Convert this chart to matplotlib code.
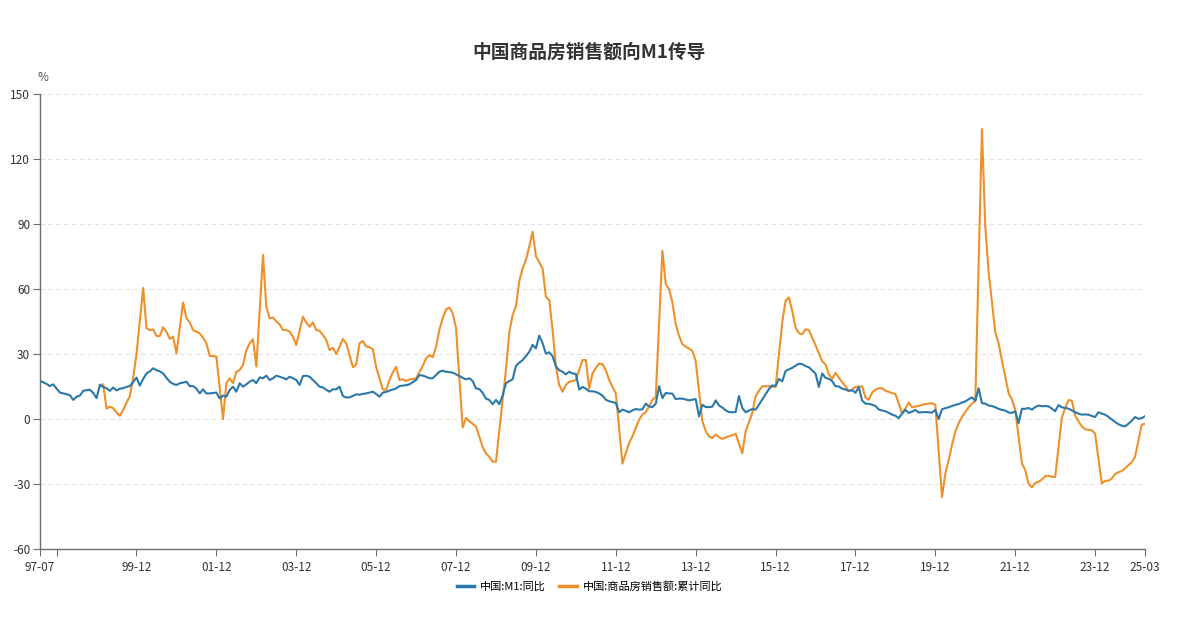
import numpy as np
import pandas as pd
import matplotlib
matplotlib.use("Agg")
import matplotlib.pyplot as plt

plt.rcParams['font.family'] = ['Noto Sans CJK SC', 'DejaVu Sans']
plt.rcParams['axes.unicode_minus'] = False

# monthly, 1997-07 .. 2025-03
months = pd.period_range('1997-07', '2025-03', freq='M')

# 中国:M1:同比 (rows = Jul..Jun)
m1 = [
    17.7, 16.9, 16.2, 15.2, 16.0, 14.0, 12.2, 11.8, 11.4, 11.0, 8.8, 10.3,
    10.8, 13.0, 13.3, 13.5, 12.0, 9.6, 15.7, 14.8, 14.2, 13.0, 14.5, 13.2,
    14.0, 14.2, 14.8, 15.2, 17.0, 19.1, 15.4, 18.5, 21.0, 22.0, 23.4, 22.5,
    22.0, 21.0, 19.0, 17.2, 16.2, 15.7, 16.5, 16.8, 17.2, 15.2, 15.2, 14.0,
    11.8, 13.7, 11.8, 11.8, 12.0, 12.2, 9.5, 10.8, 10.3, 13.4, 14.9, 12.6,
    16.5, 14.9, 16.0, 17.2, 18.0, 16.5, 19.2, 18.8, 20.0, 18.0, 18.8, 20.0,
    19.5, 19.0, 18.3, 19.5, 18.8, 18.0, 15.7, 19.8, 20.0, 19.5, 18.0, 16.5,
    14.9, 14.6, 13.5, 12.6, 13.7, 13.7, 14.9, 10.6, 9.9, 10.0, 10.6, 11.4,
    11.2, 11.6, 11.8, 12.2, 12.6, 11.5, 10.3, 12.2, 12.5, 13.1, 13.6, 14.1,
    15.2, 15.4, 15.6, 16.0, 17.0, 18.0, 20.3, 20.0, 19.5, 18.8, 18.8, 20.3,
    21.8, 22.3, 21.8, 21.6, 21.4, 20.6, 19.8, 19.0, 18.3, 18.8, 17.5, 14.1,
    13.8, 12.0, 9.4, 8.8, 6.8, 8.8, 6.8, 10.9, 16.5, 17.5, 18.3, 24.5,
    26.0, 27.2, 29.0, 31.0, 34.2, 32.6, 38.5, 35.0, 30.1, 30.8, 29.0, 24.3,
    22.5, 21.8, 20.6, 21.8, 21.0, 20.8, 13.6, 14.8, 14.0, 12.8, 12.8, 12.5,
    11.8, 10.8, 8.9, 8.2, 7.8, 7.4, 3.1, 4.3, 3.8, 3.1, 4.0, 4.6,
    4.3, 4.5, 7.1, 5.8, 5.5, 7.0, 15.1, 9.7, 12.0, 11.8, 11.7, 9.2,
    9.4, 9.4, 9.0, 8.6, 8.9, 9.2, 1.2, 6.6, 5.5, 5.5, 5.7, 8.6,
    6.2, 5.3, 4.0, 3.2, 3.1, 3.2, 10.6, 5.1, 3.1, 3.9, 4.6, 4.3,
    6.6, 9.0, 11.4, 13.8, 15.5, 15.2, 18.5, 17.4, 22.1, 22.9, 23.6, 24.6,
    25.5, 25.3, 24.4, 23.9, 22.4, 21.0, 14.8, 21.0, 19.0, 18.5, 17.5, 15.1,
    15.0, 14.0, 13.6, 13.0, 13.3, 12.1, 14.7, 8.5, 7.1, 7.0, 6.6, 6.0,
    4.4, 3.9, 3.6, 2.8, 2.0, 1.5, 0.4, 2.5, 4.2, 2.8, 3.4, 4.2,
    3.0, 3.1, 3.2, 3.1, 2.9, 4.2, 0.0, 4.5, 5.0, 5.4, 6.0, 6.5,
    6.9, 7.6, 8.1, 9.1, 10.0, 8.4, 14.2, 7.3, 7.1, 6.2, 6.0, 5.4,
    4.7, 4.2, 3.9, 3.0, 2.8, 3.6, -1.9, 4.7, 4.7, 5.1, 4.3, 5.5,
    6.2, 5.9, 6.0, 5.8, 4.8, 3.6, 6.4, 5.4, 5.1, 4.8, 4.0, 3.1,
    2.5, 2.0, 2.1, 2.0, 1.4, 0.9, 3.1, 2.5, 2.0, 1.0, -0.2, -1.4,
    -2.4, -3.1, -3.4, -2.2, -0.8, 0.9, 0.1, 0.4, 1.3,
]

# 中国:商品房销售额:累计同比 (no January figure after 1999)
N = None
sales = [
    N, N, N, N, N, N, N, N, N, N, N, N,
    N, N, N, N, N, N, 15.7, 16.0, 4.8, 5.7, 5.0, 3.0,
    1.5, 4.2, 7.5, 10.5, 19.0, 30.0, N, 60.5, 42.0, 41.0, 41.3, 38.3,
    38.3, 42.3, 40.3, 37.0, 38.0, 30.3, N, 53.8, 46.5, 44.5, 41.0, 40.3,
    39.5, 37.5, 34.9, 29.1, 29.0, 28.8, N, 0.0, 16.5, 18.8, 16.5, 21.8,
    22.6, 24.9, 31.8, 34.9, 36.8, 24.2, N, 75.7, 51.8, 46.5, 46.8, 45.0,
    43.7, 41.1, 41.1, 40.3, 38.0, 34.2, N, 47.2, 44.5, 42.6, 44.6, 41.0,
    40.7, 38.8, 36.5, 31.8, 32.9, 30.0, N, 36.9, 34.9, 29.5, 23.9, 25.0,
    34.9, 36.0, 33.4, 33.2, 32.2, 24.0, N, 13.7, 13.4, 18.0, 21.5, 24.1,
    18.0, 18.3, 17.5, 18.3, 18.4, 18.8, N, 24.5, 28.0, 29.5, 28.5, 33.4,
    41.1, 46.5, 50.6, 51.4, 48.8, 41.9, N, -3.9, 0.5, -1.0, -2.2, -3.5,
    -8.1, -13.0, -15.9, -17.5, -19.7, -19.7, N, 8.9, 22.7, 40.0, 48.0, 52.0,
    63.5, 69.5, 73.4, 79.6, 86.4, 75.2, N, 69.5, 56.4, 54.9, 41.1, 24.2,
    15.7, 12.6, 15.7, 17.2, 17.5, 18.0, N, 27.2, 27.2, 14.1, 21.0, 23.5,
    25.6, 25.3, 22.6, 18.0, 14.9, 11.8, N, -20.6, -15.7, -11.1, -8.0, -4.2,
    -0.3, 2.0, 3.1, 5.8, 8.9, 10.1, N, 77.6, 62.3, 59.9, 53.8, 43.8,
    38.4, 34.5, 33.4, 32.5, 31.4, 26.8, N, -1.0, -5.5, -8.0, -8.8, -7.2,
    -8.4, -9.2, -8.5, -8.0, -7.5, -6.8, N, -15.8, -5.7, -1.5, 2.8, 10.5,
    13.0, 15.1, 15.1, 15.1, 15.0, 14.8, N, 44.5, 54.6, 56.1, 49.9, 42.2,
    39.6, 39.1, 41.4, 41.1, 37.6, 34.0, N, 26.7, 25.2, 20.6, 18.5, 21.3,
    19.0, 17.0, 15.1, 12.8, 13.6, 14.8, N, 15.1, 10.0, 8.9, 12.2, 13.5,
    14.2, 14.2, 13.1, 12.5, 11.9, 11.6, N, 2.6, 4.9, 7.6, 5.4, 5.7,
    6.1, 6.5, 6.9, 7.1, 7.3, 6.5, N, -36.0, -25.2, -19.0, -12.0, -5.9,
    -2.0, 1.0, 3.2, 5.4, 7.0, 8.4, N, 133.8, 89.0, 68.0, 54.0, 40.0,
    35.0, 27.0, 19.5, 12.0, 9.0, 4.3, N, -20.5, -23.6, -29.8, -31.6, -29.5,
    -29.0, -27.9, -26.4, -26.2, -26.7, -26.7, N, 0.5, 5.1, 8.7, 8.5, 1.6,
    -1.1, -3.4, -4.7, -5.0, -5.2, -6.8, N, -29.8, -28.5, -28.5, -27.5, -25.4,
    -24.6, -24.0, -22.8, -21.3, -20.0, -17.4, N, -2.6, -2.3,
]

x = np.arange(len(months))
m1 = np.array(m1, dtype=float)
sales = np.array([np.nan if v is None else v for v in sales])
ok = ~np.isnan(sales)

blue = '#2b78ab'
orange = '#ef9029'

fig = plt.figure(figsize=(11.79, 6.17), dpi=100)
ax = fig.add_axes([0.0339, 0.1102, 0.9373, 0.7375])

ax.plot(x, m1, color=blue, lw=1.5, label='中国:M1:同比', zorder=3)
ax.plot(x[ok], sales[ok], color=orange, lw=1.5, label='中国:商品房销售额:累计同比', zorder=2)

ax.set_xlim(0, len(months) - 1)
ax.set_ylim(-60, 150)
ax.set_yticks(range(-60, 151, 30))
ax.grid(axis='y', color='#e3e3e3', ls=(0, (4, 3)), lw=0.8)
ax.set_axisbelow(True)

# ticks every december of odd years, first and last month labelled
tick_pos = [0] + [i for i, p in enumerate(months) if p.month == 12 and p.year % 2 == 1] + [len(months) - 1]
tick_lab = [months[i].strftime('%y-%m') for i in tick_pos]
tick_lab[1] = ''
ax.set_xticks(tick_pos)
ax.set_xticklabels(tick_lab)

for s in ['top', 'right']:
    ax.spines[s].set_visible(False)
for s in ['left', 'bottom']:
    ax.spines[s].set_color('#6e6e6e')
    ax.spines[s].set_linewidth(1.0)
ax.tick_params(axis='both', colors='#6e6e6e', labelcolor='#333333', labelsize=8.5, length=5, width=0.8)
ax.tick_params(axis='y', pad=2)

fig.text(0.0322, 0.868, '%', fontsize=8.5, color='#555555')
fig.suptitle('中国商品房销售额向M1传导', x=0.4995, y=0.93, fontsize=13.5, fontweight='bold', color='#333333')

fig.legend(loc='center', bbox_to_anchor=(0.5, 0.05), ncol=2, frameon=False,
           fontsize=8, handlelength=1.6, columnspacing=1.2, handletextpad=0.5)
for h in fig.legends[0].get_lines():
    h.set_linewidth(2.5)

fig.savefig('out.png', dpi=100, facecolor='white')
